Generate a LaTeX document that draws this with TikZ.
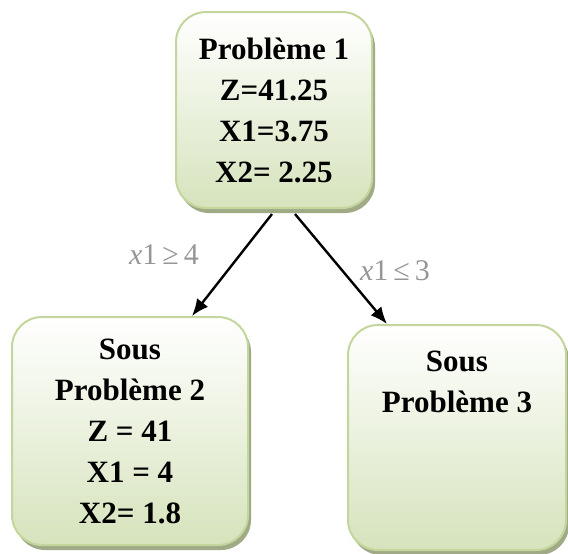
\documentclass[tikz,border=0pt]{standalone}
\usepackage{fontspec}
\setmainfont{Liberation Serif}
\usetikzlibrary{arrows.meta,positioning,shadows}
\definecolor{boxline}{RGB}{195,214,155}
\definecolor{boxfill}{RGB}{214,227,188}
\definecolor{boxshadow}{RGB}{160,170,135}
\definecolor{condgray}{RGB}{150,150,150}

\begin{document}
\begin{tikzpicture}[x=0.5pt,y=-0.5pt,
    probbox/.style={draw=boxline,line width=1pt,rounded corners=15pt,top color=white,bottom color=boxfill,
      drop shadow={shadow xshift=1.5pt,shadow yshift=-2.5pt,fill=boxshadow,opacity=1}},
    probtext/.style={align=center,inner sep=0pt,font=\bfseries\fontsize{15.5}{20.5}\selectfont},
    cond/.style={text=condgray,inner sep=0pt,font=\fontsize{15}{18}\selectfont},
    branch/.style={-{Latex[length=8.5pt,width=7pt]},line width=1.2pt}]
  \useasboundingbox (0,0) rectangle (568,553);
  \node[probbox,probtext,minimum width=98pt,minimum height=98pt] (p1) at (274,110) {Problème 1\\Z=41.25\\X1=3.75\\X2= 2.25};
  \node[probbox,probtext,minimum width=118pt,minimum height=114pt] (p2) at (130,431) {Sous\\Problème 2\\Z = 41\\X1 = 4\\X2= 1.8};
  \node[probbox,minimum width=109pt,minimum height=112.5pt] (p3) at (457,437.5) {};
  \node[probtext,below=13.5pt of p3.north] (p3txt) {Sous\\Problème 3};
  \draw[branch] ([xshift=-1pt,yshift=-2.5pt]p1.south) -- node[cond,pos=.4,left=20pt] (c1) {\textit{x}1\,≥\,4} ([xshift=31pt]p2.north);
  \draw[branch] ([xshift=10.5pt,yshift=-2.5pt]p1.south) -- node[cond,pos=.52,right=8pt] (c2) {\textit{x}1\,≤\,3} ([xshift=-35pt]p3.north);
\end{tikzpicture}
\end{document}
